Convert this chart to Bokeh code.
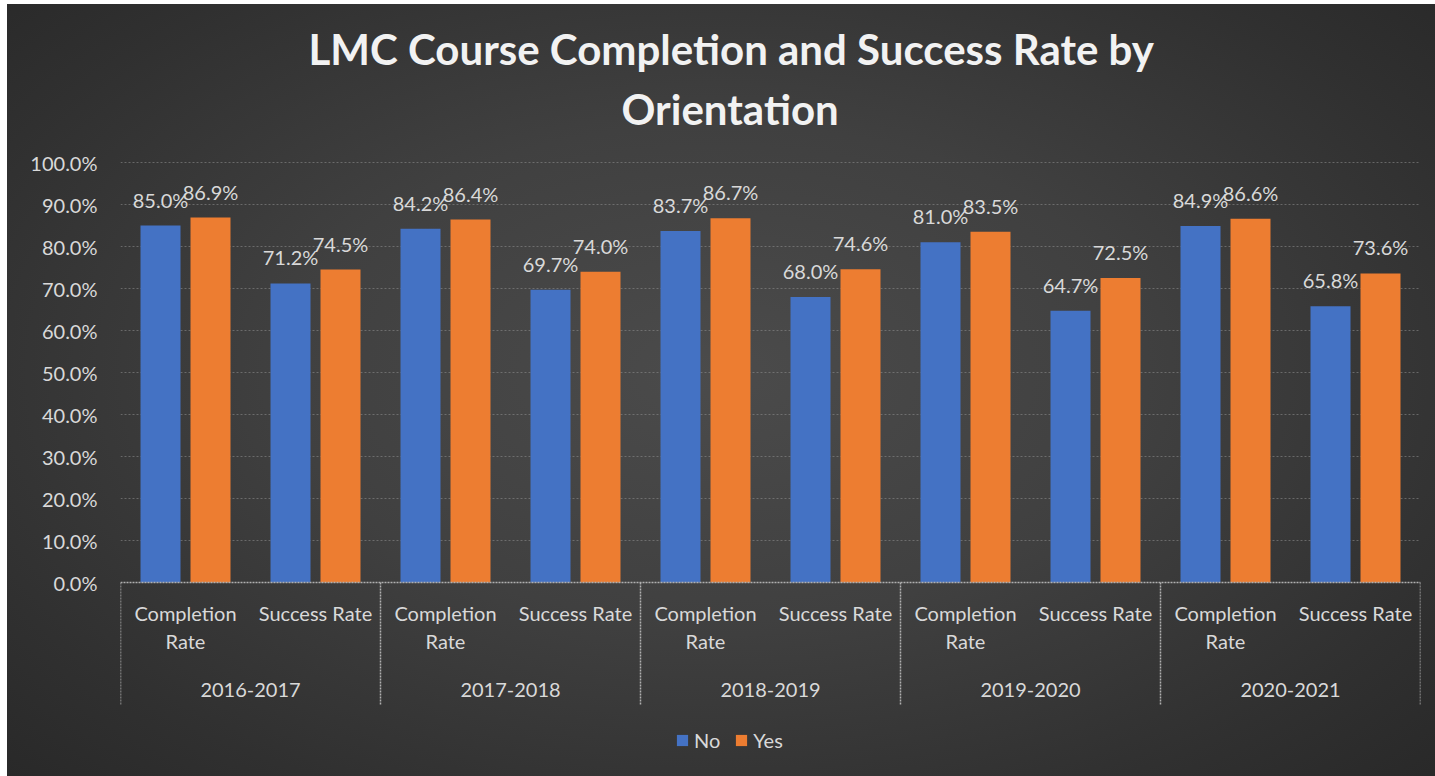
from bokeh.plotting import figure
from bokeh.models import (ColumnDataSource, FactorRange, Range1d, FixedTicker,
                          PrintfTickFormatter, Legend, LegendItem, Title)
from bokeh.transform import dodge
from bokeh.core.properties import value
from bokeh.embed import file_html
from bokeh.resources import INLINE

# ---------------- data ----------------
years = ["2016-2017", "2017-2018", "2018-2019", "2019-2020", "2020-2021"]
metrics = ["Completion Rate", "Success Rate"]
no_completion = [85.0, 84.2, 83.7, 81.0, 84.9]
no_success = [71.2, 69.7, 68.0, 64.7, 65.8]
yes_completion = [86.9, 86.4, 86.7, 83.5, 86.6]
yes_success = [74.5, 74.0, 74.6, 72.5, 73.6]
series_names = ["No", "Yes"]
y_ticks = [0, 10, 20, 30, 40, 50, 60, 70, 80, 90, 100]
title_lines = ["LMC Course Completion and Success Rate by", "Orientation"]

FONT = "Lato"
TXT = "#d9d9d9"

factors = [(y, m) for y in years for m in metrics]
no_vals, yes_vals = [], []
for i in range(len(years)):
    no_vals += [no_completion[i], no_success[i]]
    yes_vals += [yes_completion[i], yes_success[i]]

src = ColumnDataSource(dict(
    x=factors, no=no_vals, yes=yes_vals,
    no_lbl=[f"{v:.1f}%" for v in no_vals],
    yes_lbl=[f"{v:.1f}%" for v in yes_vals],
))

p = figure(width=1435, height=776, output_backend="svg", toolbar_location=None,
           x_range=FactorRange(*factors, factor_padding=0, group_padding=0,
                               subgroup_padding=0, range_padding=0),
           y_range=Range1d(-46.19, 105),
           x_axis_location=None,
           min_border_left=120, min_border_right=15, min_border_top=141,
           min_border_bottom=0)

p.styles = {"background": (
    "linear-gradient(to right, #ffffff 7px, rgba(0,0,0,0) 7px), "
    "linear-gradient(to bottom, #ffffff 4px, rgba(0,0,0,0) 4px), "
    "radial-gradient(ellipse 75% 80% at 50% 48%, #4b4b4b 0%, #404040 40%, "
    "#303030 75%, #262626 100%)")}
p.background_fill_alpha = 0
p.border_fill_alpha = 0
p.outline_line_color = None

# title (two centred lines): p.title is the upper line, the added Title sits
# next to the plot frame
p.title.text = title_lines[0]
p.title.align = "left"
p.title.offset = 188
p.title.text_font = FONT
p.title.text_font_style = "bold"
p.title.text_font_size = "42px"
p.title.text_color = "#f2f2f2"
p.title.standoff = 0
t2 = Title(text=title_lines[1], align="left", offset=501, text_font=FONT,
           text_font_style="bold", text_font_size="42px", text_color="#f2f2f2",
           standoff=16)
p.add_layout(t2, "above")

# y axis
ax = p.yaxis[0]
ax.ticker = FixedTicker(ticks=y_ticks)
ax.formatter = PrintfTickFormatter(format="%.1f%%")
ax.axis_line_color = None
ax.major_tick_line_color = None
ax.minor_tick_line_color = None
ax.major_label_standoff = 17
ax.major_label_text_font = FONT
ax.major_label_text_font_size = "20px"
ax.major_label_text_color = TXT

p.xgrid.grid_line_color = None
p.ygrid.ticker = FixedTicker(ticks=y_ticks[1:])
p.ygrid.grid_line_color = "#8a8a8a"
p.ygrid.grid_line_alpha = 0.6
p.ygrid.grid_line_dash = "2 2"
p.ygrid.grid_line_width = 1

# bars
off = 25 / 130
bw = 40 / 130
r_no = p.vbar(x=dodge("x", -off, range=p.x_range), top="no", width=bw, source=src,
              fill_color="#4472c4", line_color=None)
r_yes = p.vbar(x=dodge("x", off, range=p.x_range), top="yes", width=bw, source=src,
               fill_color="#ed7d31", line_color=None)

# data labels
for col, lbl, d in (("no", "no_lbl", -off), ("yes", "yes_lbl", off)):
    p.text(x=dodge("x", d, range=p.x_range), y=col, text=lbl, source=src,
           text_align="center", text_baseline="alphabetic", y_offset=-26,
           text_font=value(FONT), text_font_size="20px", text_color=TXT)

# category axis drawn in data space: baseline, separators, labels
n = len(factors)
p.segment(x0=[0], y0=[0], x1=[n], y1=[0], line_color="#b0b0b0", line_width=1.5,
          line_dash="2 1")
seps = list(range(0, n + 1, len(metrics)))
p.segment(x0=seps, y0=[0] * len(seps), x1=seps, y1=[-29.3] * len(seps),
          line_color="#b0b0b0", line_width=1.5, line_dash="2 1")

sub_text = {"Completion Rate": "Completion\nRate", "Success Rate": "Success Rate"}
sub_src = ColumnDataSource(dict(x=factors, t=[sub_text[m] for (_, m) in factors],
                                y=[-4.4] * n))
p.text(x="x", y="y", text="t", source=sub_src, text_align="center",
       text_baseline="top", text_line_height=1.15,
       text_font=value(FONT), text_font_size="20px", text_color=TXT)

grp_src = ColumnDataSource(dict(x=years, y=[-25.7] * len(years), t=years))
p.text(x="x", y="y", text="t", source=grp_src, text_align="center",
       text_baseline="middle", text_font=value(FONT), text_font_size="20px",
       text_color=TXT)

legend = Legend(items=[LegendItem(label=series_names[0], renderers=[r_no]),
                       LegendItem(label=series_names[1], renderers=[r_yes])],
                orientation="horizontal", location=(555, 24),
                background_fill_alpha=0, border_line_color=None,
                label_text_font=FONT, label_text_font_size="20px",
                label_text_color=TXT, glyph_width=14, glyph_height=14,
                label_standoff=5, spacing=14, padding=4, margin=0)
p.add_layout(legend, "center")

open("out.html", "w").write(file_html(p, INLINE))
